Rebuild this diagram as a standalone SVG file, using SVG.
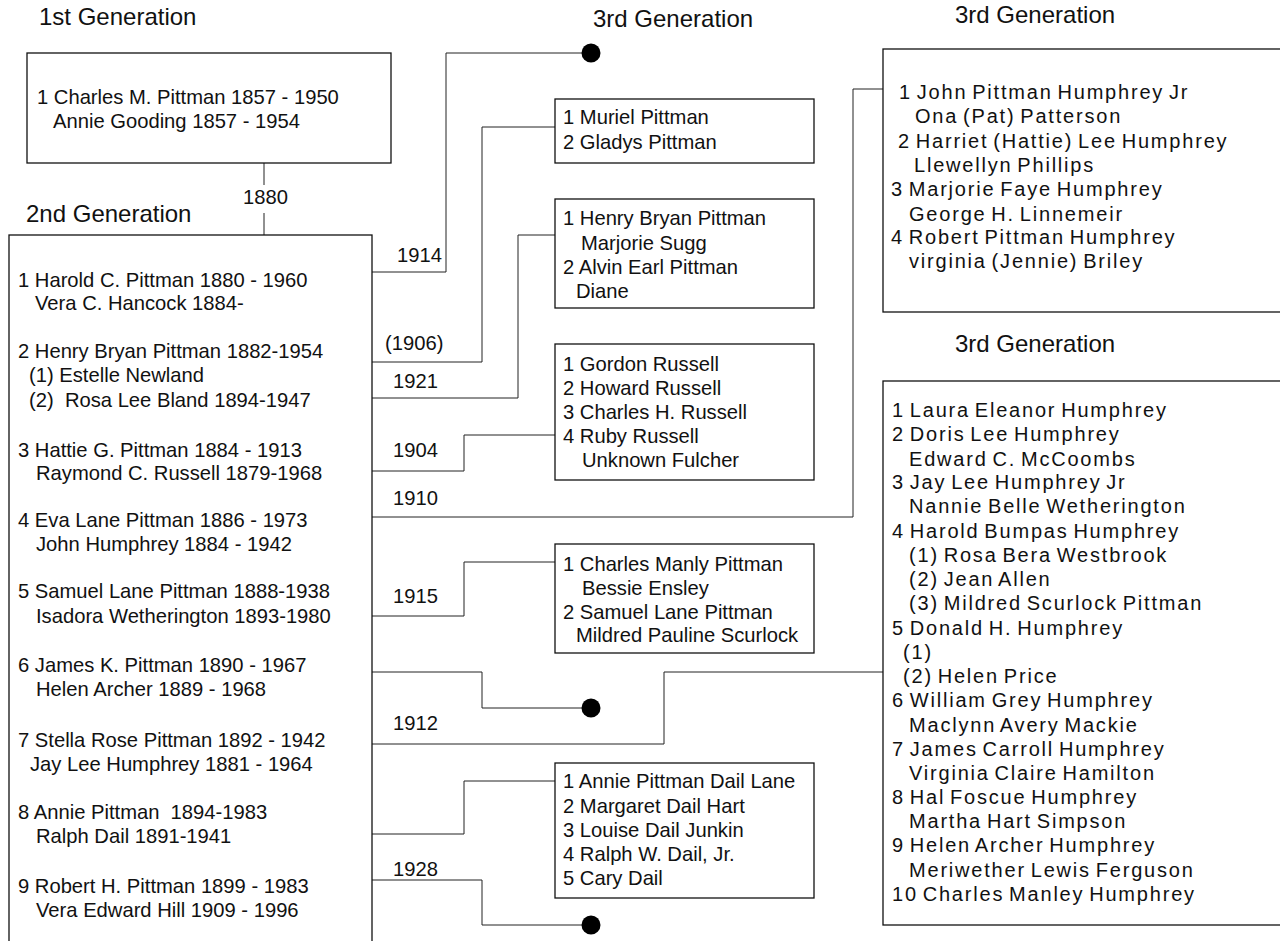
<svg xmlns="http://www.w3.org/2000/svg" width="1280" height="941" viewBox="0 0 1280 941">
<style>
text{font-family:"Liberation Sans",Arial,sans-serif;font-size:20.2px;fill:#111}
.h{font-size:24px}
.r{font-size:20px;letter-spacing:1.8px;word-spacing:-2.5px}
.box{fill:#fff;stroke:#111;stroke-width:1.3}
.conn path{fill:none;stroke:#222;stroke-width:1}
.dot{fill:#000}
</style>
<rect width="1280" height="941" fill="#fff"/>
<g id="headers">
<text class="h" x="39" y="25">1st Generation</text>
<text class="h" x="26" y="222">2nd Generation</text>
<text class="h" x="593" y="27">3rd Generation</text>
<text class="h" x="955" y="23">3rd Generation</text>
<text class="h" x="955" y="352">3rd Generation</text>
</g>
<g class="conn" id="connectors">
<path d="M264,163V185M264,213V235"/>
<path d="M372,272H446V53H591"/>
<path d="M372,362H482V127H555"/>
<path d="M372,398H518V235H555"/>
<path d="M372,471H464V435H555"/>
<path d="M372,517H853V89H883"/>
<path d="M372,616H464V562H555"/>
<path d="M372,672H482V708H591"/>
<path d="M372,744H664V672H883"/>
<path d="M372,834H464V781H555"/>
<path d="M372,880H482V925H591"/>
<circle class="dot" cx="591" cy="53" r="9.5"/>
<circle class="dot" cx="591" cy="708" r="9.5"/>
<circle class="dot" cx="591" cy="925" r="9.5"/>
<text x="243" y="204">1880</text>
<text x="397" y="262">1914</text>
<text x="385" y="350">(1906)</text>
<text x="393" y="388">1921</text>
<text x="393" y="457">1904</text>
<text x="393" y="505">1910</text>
<text x="393" y="603">1915</text>
<text x="393" y="730">1912</text>
<text x="393" y="876">1928</text>
</g>
<g id="gen1">
<rect class="box" x="27" y="53" width="364" height="110"/>
<text x="37" y="104">1 Charles M. Pittman 1857 - 1950</text>
<text x="53" y="128">Annie Gooding 1857 - 1954</text>
</g>
<g id="gen2">
<rect class="box" x="9" y="235" width="363" height="730"/>
<text x="18" y="287">1 Harold C. Pittman 1880 - 1960</text>
<text x="35" y="310">Vera C. Hancock 1884-</text>
<text x="18" y="358">2 Henry Bryan Pittman 1882-1954</text>
<text x="29" y="382">(1) Estelle Newland</text>
<text x="29" y="407" xml:space="preserve">(2)  Rosa Lee Bland 1894-1947</text>
<text x="18" y="457">3 Hattie G. Pittman 1884 - 1913</text>
<text x="36" y="480">Raymond C. Russell 1879-1968</text>
<text x="18" y="527">4 Eva Lane Pittman 1886 - 1973</text>
<text x="36" y="551">John Humphrey 1884 - 1942</text>
<text x="18" y="598">5 Samuel Lane Pittman 1888-1938</text>
<text x="36" y="623">Isadora Wetherington 1893-1980</text>
<text x="18" y="672">6 James K. Pittman 1890 - 1967</text>
<text x="36" y="696">Helen Archer 1889 - 1968</text>
<text x="18" y="747">7 Stella Rose Pittman 1892 - 1942</text>
<text x="30" y="771">Jay Lee Humphrey 1881 - 1964</text>
<text x="18" y="819" xml:space="preserve">8 Annie Pittman  1894-1983</text>
<text x="36" y="843">Ralph Dail 1891-1941</text>
<text x="18" y="893">9 Robert H. Pittman 1899 - 1983</text>
<text x="36" y="917">Vera Edward Hill 1909 - 1996</text>
</g>
<g id="harold-children">
<rect class="box" x="555" y="99" width="259" height="64"/>
<text x="563" y="124">1 Muriel Pittman</text>
<text x="563" y="149">2 Gladys Pittman</text>
</g>
<g id="henry-children">
<rect class="box" x="555" y="199" width="259" height="109"/>
<text x="563" y="225">1 Henry Bryan Pittman</text>
<text x="581" y="250">Marjorie Sugg</text>
<text x="563" y="274">2 Alvin Earl Pittman</text>
<text x="576" y="298">Diane</text>
</g>
<g id="hattie-children">
<rect class="box" x="555" y="344" width="259" height="136"/>
<text x="563" y="371">1 Gordon Russell</text>
<text x="563" y="395">2 Howard Russell</text>
<text x="563" y="419">3 Charles H. Russell</text>
<text x="563" y="443">4 Ruby Russell</text>
<text x="582" y="467">Unknown Fulcher</text>
</g>
<g id="samuel-children">
<rect class="box" x="555" y="544" width="259" height="109"/>
<text x="563" y="571">1 Charles Manly Pittman</text>
<text x="582" y="595">Bessie Ensley</text>
<text x="563" y="619">2 Samuel Lane Pittman</text>
<text x="576" y="642">Mildred Pauline Scurlock</text>
</g>
<g id="annie-children">
<rect class="box" x="555" y="763" width="259" height="135"/>
<text x="563" y="788">1 Annie Pittman Dail Lane</text>
<text x="563" y="813">2 Margaret Dail Hart</text>
<text x="563" y="837">3 Louise Dail Junkin</text>
<text x="563" y="861">4 Ralph W. Dail, Jr.</text>
<text x="563" y="885">5 Cary Dail</text>
</g>
<g id="eva-children">
<rect class="box" x="883" y="49" width="420" height="263"/>
<text class="r" x="899" y="99">1 John Pittman Humphrey Jr</text>
<text class="r" x="915" y="123">Ona (Pat) Patterson</text>
<text class="r" x="898" y="148">2 Harriet (Hattie) Lee Humphrey</text>
<text class="r" x="914" y="172">Llewellyn Phillips</text>
<text class="r" x="891" y="196">3 Marjorie Faye Humphrey</text>
<text class="r" x="909" y="221">George H. Linnemeir</text>
<text class="r" x="891" y="244">4 Robert Pittman Humphrey</text>
<text class="r" x="909" y="268">virginia (Jennie) Briley</text>
</g>
<g id="stella-children">
<rect class="box" x="883" y="381" width="420" height="544"/>
<text class="r" x="892" y="417">1 Laura Eleanor Humphrey</text>
<text class="r" x="892" y="441">2 Doris Lee Humphrey</text>
<text class="r" x="909" y="466">Edward C. McCoombs</text>
<text class="r" x="892" y="489">3 Jay Lee Humphrey Jr</text>
<text class="r" x="909" y="513">Nannie Belle Wetherington</text>
<text class="r" x="892" y="538">4 Harold Bumpas Humphrey</text>
<text class="r" x="909" y="562">(1) Rosa Bera Westbrook</text>
<text class="r" x="909" y="586">(2) Jean Allen</text>
<text class="r" x="909" y="610">(3) Mildred Scurlock Pittman</text>
<text class="r" x="892" y="635">5 Donald H. Humphrey</text>
<text class="r" x="903" y="659">(1)</text>
<text class="r" x="903" y="683">(2) Helen Price</text>
<text class="r" x="892" y="707">6 William Grey Humphrey</text>
<text class="r" x="909" y="732">Maclynn Avery Mackie</text>
<text class="r" x="892" y="756">7 James Carroll Humphrey</text>
<text class="r" x="909" y="780">Virginia Claire Hamilton</text>
<text class="r" x="892" y="804">8 Hal Foscue Humphrey</text>
<text class="r" x="909" y="828">Martha Hart Simpson</text>
<text class="r" x="892" y="852">9 Helen Archer Humphrey</text>
<text class="r" x="909" y="877">Meriwether Lewis Ferguson</text>
<text class="r" x="892" y="901">10 Charles Manley Humphrey</text>
</g>
</svg>
